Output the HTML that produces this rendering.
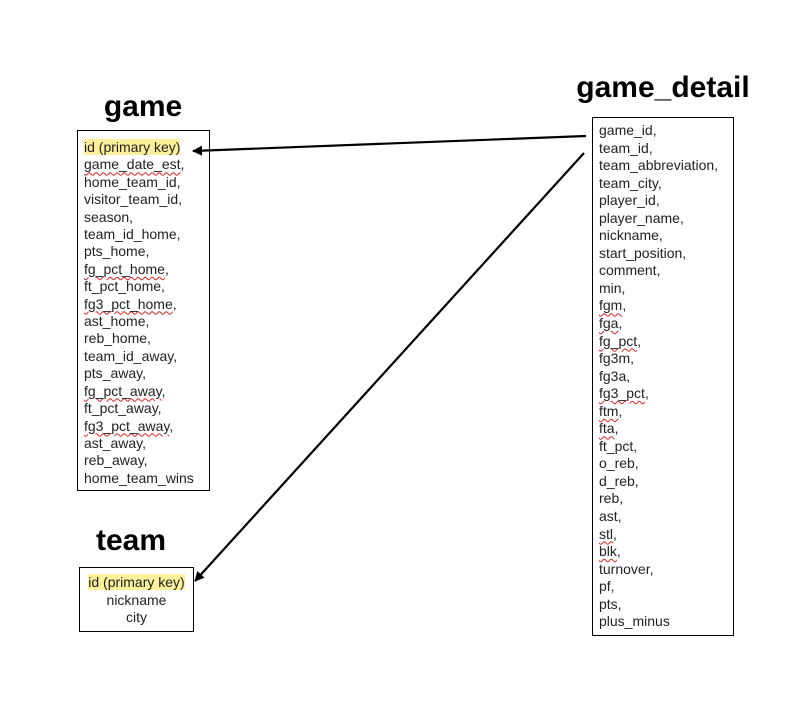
<!DOCTYPE html>
<html><head><meta charset="utf-8"><style>
body{margin:0;width:790px;height:705px;background:#fff;position:relative;overflow:hidden;font-family:"Liberation Sans",Arial,sans-serif;}
.t{position:absolute;font-weight:bold;font-size:30px;color:#000;text-align:center;line-height:30px;}
.box{position:absolute;border:1px solid #000;box-sizing:border-box;font-size:14px;color:#222;}
.box div{white-space:nowrap;}
.hl{background:#fdf09a;}
.sq{text-decoration:underline wavy #e02020;text-decoration-thickness:1px;text-underline-offset:2px;}
</style></head><body>
<div class="t" style="left:83px;top:92px;width:120px;">game</div>
<div class="t" style="left:560px;top:73px;width:206px;">game_detail</div>
<div class="t" style="left:71px;top:526px;width:120px;">team</div>

<div class="box" style="left:77px;top:130px;width:133px;height:361px;padding:8px 0 0 6px;line-height:17.4px;">
<div><span class="hl">id (primary key)</span></div>
<div><span class="sq">game_date_est</span>,</div>
<div>home_team_id,</div>
<div>visitor_team_id,</div>
<div>season,</div>
<div>team_id_home,</div>
<div>pts_home,</div>
<div><span class="sq">fg_pct_home</span>,</div>
<div>ft_pct_home,</div>
<div><span class="sq">fg3_pct_home</span>,</div>
<div>ast_home,</div>
<div>reb_home,</div>
<div>team_id_away,</div>
<div>pts_away,</div>
<div><span class="sq">fg_pct_away</span>,</div>
<div>ft_pct_away,</div>
<div><span class="sq">fg3_pct_away</span>,</div>
<div>ast_away,</div>
<div>reb_away,</div>
<div>home_team_wins</div>
</div>

<div class="box" style="left:592px;top:117px;width:142px;height:519px;padding:4px 0 0 6px;line-height:17.54px;">
<div>game_id,</div><div>team_id,</div><div>team_abbreviation,</div><div>team_city,</div><div>player_id,</div><div>player_name,</div><div>nickname,</div><div>start_position,</div><div>comment,</div><div>min,</div>
<div><span class="sq">fgm</span>,</div><div><span class="sq">fga</span>,</div><div><span class="sq">fg_pct</span>,</div><div>fg3m,</div><div>fg3a,</div><div><span class="sq">fg3_pct</span>,</div><div><span class="sq">ftm</span>,</div><div><span class="sq">fta</span>,</div><div>ft_pct,</div><div>o_reb,</div>
<div>d_reb,</div><div>reb,</div><div>ast,</div><div><span class="sq">stl</span>,</div><div><span class="sq">blk</span>,</div><div>turnover,</div><div>pf,</div><div>pts,</div><div>plus_minus</div>
</div>

<div class="box" style="left:79px;top:567px;width:115px;height:65px;padding-top:6px;line-height:17.5px;text-align:center;">
<div><span class="hl">id (primary key)</span></div>
<div>nickname</div>
<div>city</div>
</div>

<svg width="790" height="705" style="position:absolute;left:0;top:0;">
<defs><marker id="a" markerWidth="10" markerHeight="10" refX="9" refY="5" orient="auto" markerUnits="userSpaceOnUse"><path d="M0,0 L10,5 L0,10 z" fill="#000"/></marker></defs>
<line x1="586" y1="136" x2="193" y2="151" stroke="#000" stroke-width="2.2" marker-end="url(#a)"/>
<line x1="584" y1="153" x2="195" y2="581" stroke="#000" stroke-width="2.2" marker-end="url(#a)"/>
</svg>
</body></html>
